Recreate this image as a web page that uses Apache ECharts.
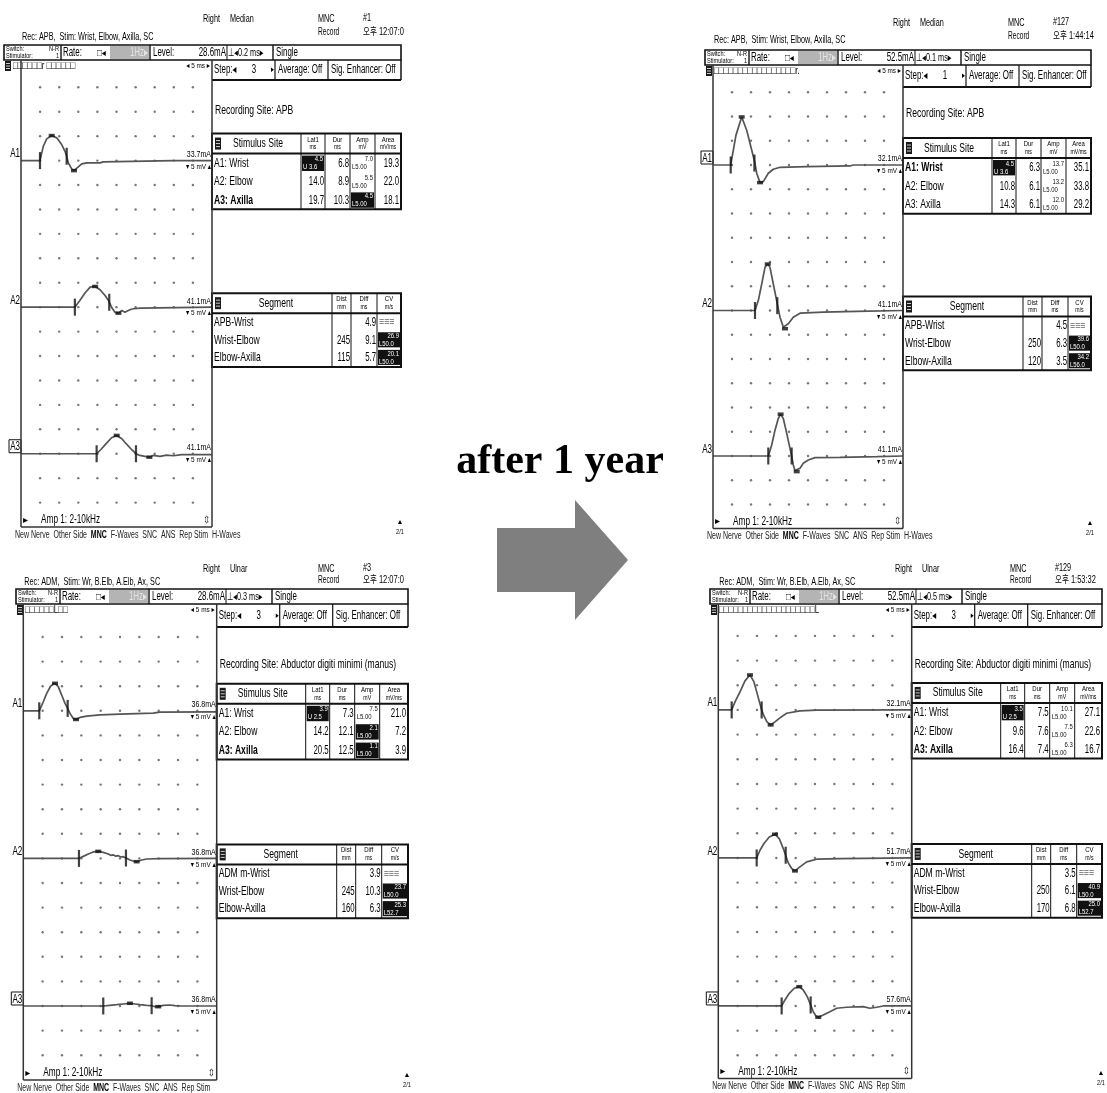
<!DOCTYPE html>
<html><head><meta charset="utf-8">
<script src="https://cdn.jsdelivr.net/npm/echarts/dist/echarts.min.js"></script>
<style>html,body{margin:0;padding:0;background:#fff}#c{width:1107px;height:1093px}</style>
</head><body><div id="c"></div>
<script>
// ================= DATA =================
// grid: 5 ms / division (x), 5 mV / division (y)
const TIME_TICKS = [5, 10, 15, 20, 25, 30, 35, 40, 45];
const ROW_TICKS = [0, 1, 2, 3, 4, 5, 6, 7, 8, 9, 10, 11, 12, 13, 14, 15, 16, 17];
const BASE_ROWS = [14, 8, 2];          // baselines of A1, A2, A3 (divisions)
const MV_PER_DIV = 5;
const STIM_LABELS = ['A1: Wrist', 'A2: Elbow', 'A3: Axilla'];

// ---- traces [ms, mV] ----
const TL_A1 = [[0,0],[4.97,0],[5.84,2.93],[6.73,4.44],[8.04,5.12],[9.35,4.65],[10.65,3.27],[11.52,1.9],[11.96,0.88],[12.38,-0.47],[13.27,-1.7],[13.87,-2.05],[15.0,-1.29],[15.9,-0.68],[17.2,-0.47],[20.7,-0.47],[21.5,-0.27],[39.9,0],[50,0]];
const TL_A2 = [[0,0],[14.1,0],[15.4,1.37],[16.8,2.95],[18.1,4.09],[19.4,4.24],[20.7,3.56],[22.0,2.39],[22.9,1.37],[23.7,0],[24.6,-1.02],[25.5,-1.23],[26.4,-0.68],[27.2,-1.02],[28.5,-0.53],[29.4,-0.33],[31.2,-0.2],[50,0]];
const TL_A3 = [[0,0],[19.8,0],[21.1,1.02],[22.4,2.17],[23.7,3.27],[25.05,3.75],[26.4,3.07],[27.7,1.9],[29.0,0.82],[30.1,0],[31.1,-0.35],[32.5,-0.55],[33.6,-0.7],[34.6,-0.35],[36.4,-0.55],[38.1,-0.28],[39.9,-0.41],[42.1,-0.2],[50,-0.2]];
const TR_A1 = [[0,0],[4.66,0],[6.05,6.16],[7.55,9.91],[8.87,7.18],[10.18,3.08],[11.05,0.35],[11.5,-1.7],[12.37,-3.63],[13.24,-3.43],[14.55,-1.7],[15.87,-0.88],[17.63,-0.47],[24.66,-0.35],[36.05,-0.2],[36.9,0],[50,0]];
const TR_A2 = [[0,0],[11.05,0],[11.92,2.05],[12.82,5.47],[13.68,8.89],[14.4,9.58],[15.0,8.89],[15.87,5.47],[16.92,1.37],[17.63,-1.37],[18.5,-3.42],[18.95,-3.75],[19.82,-2.73],[21.13,-1.37],[22.9,-0.55],[29.03,-0.35],[37.8,-0.2],[50,0]];
const TR_A3 = [[0,0],[14.55,0],[15.45,2.26],[16.32,5.33],[17.18,7.73],[17.8,8.62],[18.5,7.73],[19.4,4.66],[20.26,1.58],[20.7,0],[21.13,-1.85],[21.58,-3.0],[22.03,-3.22],[22.9,-2.53],[23.76,-1.5],[25.08,-0.82],[26.84,-0.34],[33.4,-0.27],[43.1,-0.14],[50,0]];
const BL_A1 = [[0,0],[4.13,0],[5.17,1.84],[6.05,3.55],[7.08,5.04],[8.19,5.59],[9.04,4.9],[9.92,3.2],[10.78,1.51],[11.47,0.49],[12.07,-0.53],[12.92,-1.55],[13.62,-1.76],[14.65,-1.35],[16.38,-1.08],[19.82,-0.82],[24.99,-0.67],[33.6,-0.47],[35.3,-0.27],[50,-0.2]];
const BL_A2 = [[0,0],[14.39,0],[15.5,0.41],[16.8,0.9],[18.09,1.31],[19.38,1.43],[20.67,1.22],[21.96,0.9],[22.6,0.62],[23.26,0.72],[23.9,0.45],[24.55,0.55],[25.2,0.28],[25.84,0.35],[26.54,0.08],[27.57,-0.33],[28.42,-0.53],[29.3,-0.67],[30.6,-0.33],[31.89,-0.12],[35.3,-0.06],[50,0]];
const BL_A3 = [[0,0],[20.67,0],[22.4,0.14],[24.13,0.27],[25.84,0.41],[27.57,0.55],[28.86,0.41],[30.16,0.27],[31.89,0.14],[33.18,0.06],[34.03,-0.14],[34.88,-0.14],[36.18,0.14],[37.91,0.2],[39.2,0.06],[40.9,0],[50,0]];
const BR_A1 = [[0,0],[3.46,0],[4.32,1.62],[5.61,3.65],[6.9,5.88],[8.19,7.09],[9.22,5.67],[10.0,3.45],[10.78,1.22],[11.21,0],[11.81,-1.22],[12.58,-2.43],[13.54,-3.04],[14.65,-2.43],[15.94,-1.62],[17.67,-0.67],[21.11,-0.2],[25.43,-0.06],[50,0]];
const BR_A2 = [[0,0],[9.92,0],[10.78,1.56],[11.81,2.92],[13.18,4.26],[14.65,4.8],[15.76,3.93],[16.8,1.9],[17.42,0.55],[18.09,-1.01],[18.97,-2.15],[19.82,-2.63],[21.11,-1.82],[22.84,-0.81],[25.43,-0.26],[31.45,-0.12],[50,0]];
const BR_A3 = [[0,0],[16.38,0],[17.24,1.22],[18.35,2.57],[19.64,3.59],[20.93,3.91],[21.96,3.24],[23.0,1.88],[23.88,0.2],[24.55,-1.16],[25.25,-2.03],[25.84,-2.29],[27.13,-1.82],[28.86,-1.16],[30.6,-0.47],[33.18,-0.26],[37.47,-0.14],[39.2,-0.47],[40.93,-0.26],[42.64,0],[50,0]];

// cursor markers (onset + second marker) and peak markers [ms, mV]
const TL_MARKS = [[[4.97,0],[11.96,0.88]], [[14.1,0],[23.1,1.0]], [[19.8,0],[30.1,0]]];
const TL_PEAKS = [[[8.04,5.12],[13.87,-2.05]], [[19.4,4.24],[25.5,-1.23]], [[25.05,3.75],[33.6,-0.7]]];
const TR_MARKS = [[[4.66,0],[10.9,0.4]], [[11.05,0],[16.92,1.0]], [[14.55,0],[20.7,0]]];
const TR_PEAKS = [[[7.55,9.91],[12.37,-3.63]], [[14.4,9.58],[18.95,-3.75]], [[17.8,8.62],[22.03,-3.22]]];
const BL_MARKS = [[[4.13,0],[11.47,0.49]], [[14.39,0],[26.54,0.08]], [[20.67,0],[33.18,0.06]]];
const BL_PEAKS = [[[8.19,5.59],[13.62,-1.76]], [[19.38,1.43],[29.3,-0.67]], [[27.57,0.55],[34.88,-0.14]]];
const BR_MARKS = [[[3.46,0],[11.21,0]], [[9.92,0],[17.42,0.55]], [[16.38,0],[23.88,0.2]]];
const BR_PEAKS = [[[8.19,7.09],[13.54,-3.04]], [[14.65,4.8],[19.82,-2.63]], [[20.93,3.91],[25.84,-2.29]]];

// ---- table values ----
const TL_LAT1 = ['4.5', '14.0', '19.7'], TL_LAT_U = 'U 3.6';
const TL_DUR = ['6.8', '8.9', '10.3'], TL_AMP = ['7.0', '5.5', '4.5'], TL_AMP_FLAG = [0, 0, 1], TL_AREA = ['19.3', '22.0', '18.1'];
const TR_LAT1 = ['4.5', '10.8', '14.3'], TR_LAT_U = 'U 3.6';
const TR_DUR = ['6.3', '6.1', '6.1'], TR_AMP = ['13.7', '13.2', '12.0'], TR_AMP_FLAG = [0, 0, 0], TR_AREA = ['35.1', '33.8', '29.2'];
const BL_LAT1 = ['3.9', '14.2', '20.5'], BL_LAT_U = 'U 2.5';
const BL_DUR = ['7.3', '12.1', '12.5'], BL_AMP = ['7.5', '2.1', '1.1'], BL_AMP_FLAG = [0, 1, 1], BL_AREA = ['21.0', '7.2', '3.9'];
const BR_LAT1 = ['3.5', '9.6', '16.4'], BR_LAT_U = 'U 2.5';
const BR_DUR = ['7.5', '7.6', '7.4'], BR_AMP = ['10.1', '7.5', '6.3'], BR_AMP_FLAG = [0, 0, 0], BR_AREA = ['27.1', '22.6', '16.7'];

const TL_SEG = ['APB-Wrist', 'Wrist-Elbow', 'Elbow-Axilla'], TL_DIST = ['', '245', '115'], TL_DIFF = ['4.9', '9.1', '5.7'], TL_CV = ['', '26.9', '20.1'], TL_CV_LIM = ['', 'L50.0', 'L50.0'];
const TR_SEG = ['APB-Wrist', 'Wrist-Elbow', 'Elbow-Axilla'], TR_DIST = ['', '250', '120'], TR_DIFF = ['4.5', '6.3', '3.5'], TR_CV = ['', '39.6', '34.2'], TR_CV_LIM = ['', 'L50.0', 'L56.0'];
const BL_SEG = ['ADM m-Wrist', 'Wrist-Elbow', 'Elbow-Axilla'], BL_DIST = ['', '245', '160'], BL_DIFF = ['3.9', '10.3', '6.3'], BL_CV = ['', '23.7', '25.3'], BL_CV_LIM = ['', 'L50.0', 'L52.7'];
const BR_SEG = ['ADM m-Wrist', 'Wrist-Elbow', 'Elbow-Axilla'], BR_DIST = ['', '250', '170'], BR_DIFF = ['3.5', '6.1', '6.8'], BR_CV = ['', '40.9', '25.0'], BR_CV_LIM = ['', 'L50.0', 'L52.7'];

// ---- header texts ----
const TL_HDR = ['Median', '#1', '오후 12:07:0', 'Rec: APB,  Stim: Wrist, Elbow, Axilla, SC'];
const TR_HDR = ['Median', '#127', '오후 1:44:14', 'Rec: APB,  Stim: Wrist, Elbow, Axilla, SC'];
const BL_HDR = ['Ulnar', '#3', '오후 12:07:0', 'Rec: ADM,  Stim: Wr, B.Elb, A.Elb, Ax, SC'];
const BR_HDR = ['Ulnar', '#129', '오후 1:53:32', 'Rec: ADM,  Stim: Wr, B.Elb, A.Elb, Ax, SC'];
const TL_CTRL = ['28.6mA', '0.2 ms', '3'], TR_CTRL = ['52.5mA', '0.1 ms', '1'], BL_CTRL = ['28.6mA', '0.3 ms', '3'], BR_CTRL = ['52.5mA', '0.5 ms', '3'];
const TL_MA = ['33.7mA', '41.1mA', '41.1mA'], TR_MA = ['32.1mA', '41.1mA', '41.1mA'], BL_MA = ['36.8mA', '36.8mA', '36.8mA'], BR_MA = ['32.1mA', '51.7mA', '57.6mA'];
const SITE_APB = 'APB', SITE_ADM = 'Abductor digiti minimi (manus)';

// ================= LAYOUT =================
const PANELS = [
  {px:21,    pr:212,   y0:502.6,  sp:24.43, hy:45,  cl:4,   cr:401,  rx:62,  rightX:203, stepB:80,  recDY:-50, hR:-26, hC:-13, hRec:-8, pb:527,
   tr:[TL_A1,TL_A2,TL_A3], marks:TL_MARKS, peaks:TL_PEAKS, hdr:TL_HDR, ctrl:TL_CTRL, mA:TL_MA, site:SITE_APB, boxed:2, bold:2, hw:true, icons:'□□□□□□r □□□□□□',
   stim:{lat:TL_LAT1, u:TL_LAT_U, dur:TL_DUR, amp:TL_AMP, flag:TL_AMP_FLAG, area:TL_AREA},
   seg:{lab:TL_SEG, dist:TL_DIST, diff:TL_DIFF, cv:TL_CV, lim:TL_CV_LIM}},
  {px:713,   pr:903,   y0:504.5,  sp:24.25, hy:50,  cl:705, cr:1091, rx:750, rightX:893, stepB:87,  recDY:-52, hR:-27, hC:-14, hRec:-10, pb:528.5,
   tr:[TR_A1,TR_A2,TR_A3], marks:TR_MARKS, peaks:TR_PEAKS, hdr:TR_HDR, ctrl:TR_CTRL, mA:TR_MA, site:SITE_APB, boxed:0, bold:0, hw:true, icons:'□□□□□□□□□□□□□□□□□r.',
   stim:{lat:TR_LAT1, u:TR_LAT_U, dur:TR_DUR, amp:TR_AMP, flag:TR_AMP_FLAG, area:TR_AREA},
   seg:{lab:TR_SEG, dist:TR_DIST, diff:TR_DIFF, cv:TR_CV, lim:TR_CV_LIM}},
  {px:23.3,  pr:216.7, y0:1055.2, sp:24.6,  hy:589, cl:16,  cr:408,  rx:61,  rightX:203, stepB:627, recDY:-46, hR:-20, hC:-9, hRec:-7, pb:1080,
   tr:[BL_A1,BL_A2,BL_A3], marks:BL_MARKS, peaks:BL_PEAKS, hdr:BL_HDR, ctrl:BL_CTRL, mA:BL_MA, site:SITE_ADM, boxed:2, bold:2, hw:false, icons:'□□□□□□L□□',
   stim:{lat:BL_LAT1, u:BL_LAT_U, dur:BL_DUR, amp:BL_AMP, flag:BL_AMP_FLAG, area:BL_AREA},
   seg:{lab:BL_SEG, dist:BL_DIST, diff:BL_DIFF, cv:BL_CV, lim:BL_CV_LIM}},
  {px:718.3, pr:911.7, y0:1055.3, sp:24.67, hy:589, cl:710, cr:1102, rx:751, rightX:895, stepB:627, recDY:-45, hR:-20, hC:-9, hRec:-7, pb:1078.5,
   tr:[BR_A1,BR_A2,BR_A3], marks:BR_MARKS, peaks:BR_PEAKS, hdr:BR_HDR, ctrl:BR_CTRL, mA:BR_MA, site:SITE_ADM, boxed:2, bold:2, hw:false, icons:'□□□□□□□□□□□□□□□□□□□□L',
   stim:{lat:BR_LAT1, u:BR_LAT_U, dur:BR_DUR, amp:BR_AMP, flag:BR_AMP_FLAG, area:BR_AREA},
   seg:{lab:BR_SEG, dist:BR_DIST, diff:BR_DIFF, cv:BR_CV, lim:BR_CV_LIM}}
];

// ================= DRAW HELPERS =================
const FONT = '"Liberation Sans", Arial, "DejaVu Sans", "Noto Sans CJK KR", sans-serif';
const SX = 0.66;
const G = [];
function T(x, y, s, o) {
  o = o || {};
  const size = o.size || 12;
  const al = o.align || 'left';
  const st = {text: s, font: (o.bold ? 'bold ' : '') + size + 'px ' + (o.family || FONT), fill: o.fill || '#000',
    align: al, textAlign: al, verticalAlign: 'middle', textVerticalAlign: 'middle'};
  if (o.rich) st.rich = o.rich;
  G.push({type: 'text', x: x, y: y, scaleX: o.sx == null ? SX : o.sx, silent: true, z: 20, style: st});
}
function L(x1, y1, x2, y2, w, c) {
  G.push({type: 'line', silent: true, z: 15, shape: {x1: x1, y1: y1, x2: x2, y2: y2}, style: {stroke: c || '#111', lineWidth: w || 1}});
}
function R(x, y, w, h, fill, stroke, lw) {
  const st = {fill: fill || 'none'};
  if (stroke) { st.stroke = stroke; st.lineWidth = lw || 1; }
  G.push({type: 'rect', silent: true, z: 12, shape: {x: x, y: y, width: w, height: h}, style: st});
}
function icon(x, y, h) {
  R(x, y, 6, h, '#1a1a1a');
  for (let k = 1; k < 4; k++) L(x + 1, y + h * k / 4, x + 5, y + h * k / 4, 0.8, '#fff');
}

function drawPanel(P) {
  const px = P.px, pr = P.pr, cl = P.cl, cr = P.cr, rx = P.rx, hy = P.hy, pb = P.pb;
  const base = BASE_ROWS.map(r => P.y0 - r * P.sp);
  const a1 = base[0], a2 = base[1];
  // header lines
  T(P.rightX, hy + P.hR, 'Right', {size: 11});
  T(P.rightX + 27, hy + P.hR, P.hdr[0], {size: 11});
  T(P.rightX + 115, hy + P.hR, 'MNC', {size: 11});
  T(P.rightX + 160, hy + P.hR - 1, P.hdr[1], {size: 11});
  T(P.rightX + 115, hy + P.hC, 'Record', {size: 10});
  T(P.rightX + 160, hy + P.hC, P.hdr[2], {size: 10, sx: 0.75});
  T(px + 1, hy + P.hRec, P.hdr[3], {size: 11});
  // control row 1
  R(cl, hy, cr - cl, 15, '#fff', '#111', 1.6);
  T(cl + 2, hy + 4, 'Switch:', {size: 7, sx: 0.8});
  T(rx - 3, hy + 4, 'N-R', {size: 7, sx: 0.8, align: 'right'});
  T(cl + 2, hy + 11, 'Stimulator:', {size: 7, sx: 0.8});
  T(rx - 3, hy + 11, '1', {size: 7, sx: 0.8, align: 'right'});
  L(rx - 1, hy, rx - 1, hy + 15, 1.4);
  T(rx + 1, hy + 8, 'Rate:', {size: 12});
  T(rx + 35, hy + 8, '□◂', {size: 10, sx: 0.8});
  R(rx + 48, hy + 1, 39, 13, '#b4b4b4');
  T(rx + 86, hy + 8, '1Hz▸', {size: 12, align: 'right', fill: '#e4e4e4'});
  L(rx + 88, hy, rx + 88, hy + 15, 1.4);
  T(rx + 91, hy + 8, 'Level:', {size: 12});
  T(rx + 164, hy + 8, P.ctrl[0], {size: 12, align: 'right'});
  L(rx + 165, hy, rx + 165, hy + 15, 1);
  T(rx + 166, hy + 8, '⊥◂' + P.ctrl[1] + '▸', {size: 11});
  L(rx + 211, hy, rx + 211, hy + 15, 1.4);
  T(rx + 214, hy + 8, 'Single', {size: 12});
  // row 2
  const r2 = hy + 15, sb = P.stepB, rc = (r2 + sb) / 2;
  icon(cl + 1, r2 + 1, 10);
  T(cl + 9, r2 + 6, P.icons, {size: 11, sx: 0.72});
  T(pr - 2, r2 + 6, '◂ 5 ms ▸', {size: 8, sx: 0.8, align: 'right'});
  L(pr, sb, cr, sb, 1.8);
  L(cr, r2, cr, sb, 1.5);
  L(pr + 63, r2, pr + 63, sb, 1.2);
  L(pr + 116, r2, pr + 116, sb, 1.2);
  T(pr + 2, rc, 'Step:◂', {size: 12});
  T(pr + 42, rc, P.ctrl[2], {size: 12, align: 'center'});
  T(pr + 62, rc, '▸', {size: 9, align: 'right'});
  T(pr + 66, rc, 'Average: Off', {size: 12});
  T(pr + 119, rc, 'Sig. Enhancer: Off', {size: 12});
  // plot frame
  L(px, r2, px, pb, 1.5, '#333');
  L(pr, r2, pr, pb, 1.5, '#333');
  L(px, pb, pr, pb, 1.5, '#333');
  T(pr + 3, a1 + P.recDY, 'Recording Site: ' + P.site, {size: 13});
  // trace labels
  ['A1', 'A2', 'A3'].forEach((lab, i) => {
    const y = base[i] - 7;
    if (P.boxed === i) R(px - 12, y - 7, 12, 13, '#fff', '#111', 1);
    T(px - 1, y, lab, {size: 13, align: 'right', sx: 0.62});
    T(pr - 1, base[i] - 6, P.mA[i], {size: 9, sx: 0.78, align: 'right'});
    T(pr - 1, base[i] + 6, '▾ 5 mV ▴', {size: 8, sx: 0.8, align: 'right'});
  });
  // stimulus site table
  {
    const S = P.stim, st = a1 - 27, sh = a1 - 7, rh = 18.4, sbm = sh + 3 * rh + 0.5;
    const ce = [pr + 89, pr + 113, pr + 138, pr + 163, cr];
    R(pr, st, cr - pr, sbm - st, '#fff', '#111', 2);
    L(pr, sh, cr, sh, 2);
    for (let j = 0; j < 4; j++) L(ce[j], st, ce[j], sbm, 1);
    icon(pr + 3, st + 4, sh - st - 8);
    T(pr + 46, (st + sh) / 2, 'Stimulus Site', {size: 13, align: 'center'});
    const hd = [['Lat1', 'ms'], ['Dur', 'ms'], ['Amp', 'mV'], ['Area', 'mV/ms']];
    hd.forEach((h, j) => {
      const cx = (ce[j] + ce[j + 1]) / 2;
      T(cx, st + 6, h[0], {size: 7.5, sx: 0.8, align: 'center'});
      T(cx, st + 14, h[1], {size: 6.5, sx: 0.8, align: 'center'});
    });
    for (let i = 0; i < 3; i++) {
      const top = sh + i * rh, cy = top + rh / 2 + 0.5;
      T(pr + 2, cy, STIM_LABELS[i], {size: 13, bold: P.bold === i});
      if (i === 0) {
        R(ce[0] + 1, top + 2, ce[1] - ce[0] - 2, rh - 3, '#111');
        T(ce[1] - 2, cy - 4, S.lat[0], {size: 7, sx: 0.85, align: 'right', fill: '#fff'});
        T(ce[0] + 2, cy + 4, S.u, {size: 7, sx: 0.85, fill: '#fff'});
      } else {
        T(ce[1] - 1, cy, S.lat[i], {size: 13, sx: 0.6, align: 'right'});
      }
      T(ce[2] - 1, cy, S.dur[i], {size: 13, sx: 0.6, align: 'right'});
      const fc = S.flag[i] ? '#fff' : '#111';
      if (S.flag[i]) R(ce[2] + 1, top + 2, ce[3] - ce[2] - 2, rh - 3, '#111');
      T(ce[3] - 2, cy - 4, S.amp[i], {size: 7, sx: 0.85, align: 'right', fill: fc});
      T(ce[2] + 2, cy + 4, 'L5.00', {size: 7, sx: 0.85, fill: fc});
      T(cr - 2, cy, S.area[i], {size: 13, sx: 0.6, align: 'right'});
    }
  }
  // segment table
  {
    const S = P.seg, st = a2 - 14, sh = a2 + 6, rh = 17.6, sbm = sh + 3 * rh + 1;
    const ce = [pr + 120, pr + 139, pr + 165, cr];
    R(pr, st, cr - pr, sbm - st, '#fff', '#111', 2);
    L(pr, sh, cr, sh, 2);
    for (let j = 0; j < 3; j++) L(ce[j], st, ce[j], sbm, 1);
    icon(pr + 3, st + 4, sh - st - 8);
    T(pr + 64, (st + sh) / 2, 'Segment', {size: 13, align: 'center'});
    const hd = [['Dist', 'mm'], ['Diff', 'ms'], ['CV', 'm/s']];
    hd.forEach((h, j) => {
      const cx = (ce[j] + ce[j + 1]) / 2;
      T(cx, st + 6, h[0], {size: 7.5, sx: 0.8, align: 'center'});
      T(cx, st + 14, h[1], {size: 6.5, sx: 0.8, align: 'center'});
    });
    for (let i = 0; i < 3; i++) {
      const top = sh + i * rh, cy = top + rh / 2 + 0.5;
      T(pr + 2, cy, S.lab[i], {size: 13});
      if (S.dist[i]) T(ce[1] - 1, cy, S.dist[i], {size: 13, sx: 0.6, align: 'right'});
      T(ce[2] - 1, cy, S.diff[i], {size: 13, sx: 0.6, align: 'right'});
      if (S.cv[i]) {
        R(ce[2] + 1, top + 1.5, cr - ce[2] - 2, rh - 2.5, '#111');
        T(cr - 2, cy - 4, S.cv[i], {size: 7, sx: 0.85, align: 'right', fill: '#fff'});
        T(ce[2] + 2, cy + 4, S.lim[i], {size: 7, sx: 0.85, fill: '#fff'});
      } else {
        T(ce[2] + 2, cy, '≡≡≡', {size: 11, sx: 0.8, fill: '#666'});
      }
    }
  }
  // bottom
  T(px + 2, pb - 7, '▸', {size: 10, sx: 1});
  T(px + 20, pb - 7, 'Amp 1: 2-10kHz', {size: 12.5});
  T(pr - 2, pb - 7, '⇳', {size: 10, sx: 0.8, align: 'right'});
  const menu = 'New Nerve  Other Side  {b|MNC}  F-Waves  SNC  ANS  Rep Stim' + (P.hw ? '  H-Waves' : '');
  T(px - 6, pb + 8, menu, {size: 10, sx: 0.7, fill: '#222', rich: {b: {font: 'bold 10px ' + FONT, fill: '#000'}}});
  T(cr - 1, pb - 5, '▲', {size: 7, sx: 1, align: 'center'});
  T(cr - 1, pb + 5, '2/1', {size: 7, sx: 0.8, align: 'center'});
}

PANELS.forEach(drawPanel);

// middle annotation
T(560, 462, 'after 1 year', {size: 42, bold: true, sx: 1, align: 'center', family: '"Liberation Serif", "Times New Roman", serif'});
G.push({type: 'polygon', silent: true, z: 10,
  shape: {points: [[497, 528], [575, 528], [575, 500], [628, 560], [575, 620], [575, 592], [497, 592]]},
  style: {fill: '#7f7f7f'}});

// ================= CHART =================
const dots = [];
TIME_TICKS.forEach(t => ROW_TICKS.forEach(r => dots.push([t, r])));
const grids = [], xAxes = [], yAxes = [], series = [];
PANELS.forEach((P, i) => {
  grids.push({left: P.px, top: P.y0 - 18 * P.sp, width: P.pr - P.px, height: 19 * P.sp, show: false});
  xAxes.push({type: 'value', gridIndex: i, min: 0, max: 50, show: false});
  yAxes.push({type: 'value', gridIndex: i, min: -1, max: 18, show: false});
  series.push({type: 'scatter', xAxisIndex: i, yAxisIndex: i, data: dots, symbolSize: 2.4,
    itemStyle: {color: '#555'}, silent: true, z: 1});
  P.tr.forEach((tr, k) => {
    const b = BASE_ROWS[k];
    const conv = p => [p[0], b + p[1] / MV_PER_DIV];
    series.push({type: 'line', xAxisIndex: i, yAxisIndex: i, data: tr.map(conv), showSymbol: false,
      lineStyle: {color: '#555', width: 1.7}, silent: true, z: 3, clip: false});
    series.push({type: 'scatter', xAxisIndex: i, yAxisIndex: i, data: P.marks[k].map(conv), symbol: 'rect',
      symbolSize: [2.2, 17], itemStyle: {color: '#111'}, silent: true, z: 4});
    series.push({type: 'scatter', xAxisIndex: i, yAxisIndex: i, data: P.peaks[k].map(conv), symbol: 'rect',
      symbolSize: [6, 3.5], itemStyle: {color: '#111'}, silent: true, z: 4});
  });
});

const chart = echarts.init(document.getElementById('c'), null, {renderer: 'canvas', width: 1107, height: 1093});
chart.setOption({
  animation: false,
  backgroundColor: '#fff',
  grid: grids, xAxis: xAxes, yAxis: yAxes, series: series,
  graphic: {elements: G}
});
</script>
</body></html>
